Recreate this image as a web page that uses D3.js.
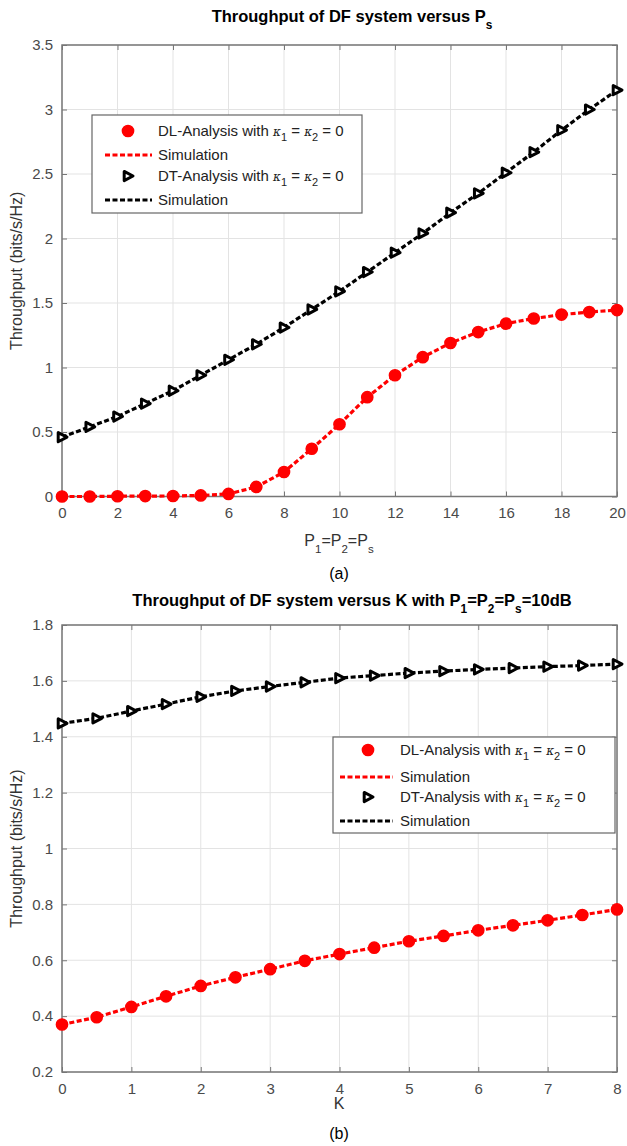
<!DOCTYPE html>
<html><head><meta charset="utf-8">
<script src="https://cdn.jsdelivr.net/npm/d3@7"></script>
<style>body{margin:0;background:#fff}svg{display:block}text{font-family:"Liberation Sans",Arial,sans-serif}</style>
</head><body>
<script>
// ---- Panel (a) data ----
const psValues = [0,1,2,3,4,5,6,7,8,9,10,11,12,13,14,15,16,17,18,19,20];
const dlVsPs = [0,0,0.002,0.003,0.004,0.008,0.02,0.074,0.19,0.37,0.56,0.77,0.94,1.08,1.19,1.275,1.34,1.38,1.41,1.43,1.445];
const dtVsPs = [0.46,0.54,0.62,0.72,0.82,0.94,1.06,1.18,1.31,1.45,1.59,1.74,1.89,2.04,2.20,2.35,2.51,2.67,2.84,3.00,3.15];
const xTicksA = [0,2,4,6,8,10,12,14,16,18,20];
const yTicksA = [0,0.5,1,1.5,2,2.5,3,3.5];
// ---- Panel (b) data ----
const kValues = [0,0.5,1,1.5,2,2.5,3,3.5,4,4.5,5,5.5,6,6.5,7,7.5,8];
const dlVsK = [0.37,0.396,0.433,0.471,0.508,0.539,0.568,0.598,0.622,0.645,0.668,0.687,0.707,0.725,0.743,0.762,0.782];
const dtVsK = [1.448,1.466,1.492,1.517,1.543,1.564,1.58,1.595,1.61,1.619,1.628,1.635,1.641,1.646,1.651,1.655,1.66];
const xTicksB = [0,1,2,3,4,5,6,7,8];
const yTicksB = [0.2,0.4,0.6,0.8,1,1.2,1.4,1.6,1.8];

const svg = d3.select("body").append("svg").attr("width",627).attr("height",1146);
svg.append("rect").attr("width",627).attr("height",1146).attr("fill","#fff");

function subText(sel, parts, fs) {
  parts.forEach(p => {
    const t = sel.append("tspan").text(p[0]);
    if (p[1]) t.attr("font-size", fs*0.72).attr("dy", fs*0.42);
    else if (p[2]) t.attr("dy", -fs*0.42);
  });
}

function panel(o) {
  const x = d3.scaleLinear().domain(o.xDomain).range([62,617]);
  const y = d3.scaleLinear().domain(o.yDomain).range([o.bottom,o.top]);
  const g = svg.append("g");
  g.selectAll(".gx").data(o.xTicks).enter().append("line")
    .attr("x1",d=>x(d)).attr("x2",d=>x(d)).attr("y1",o.top).attr("y2",o.bottom)
    .attr("stroke","#e3e3e3").attr("stroke-width",1);
  g.selectAll(".gy").data(o.yTicks).enter().append("line")
    .attr("y1",d=>y(d)).attr("y2",d=>y(d)).attr("x1",62).attr("x2",617)
    .attr("stroke","#e3e3e3").attr("stroke-width",1);
  const axB = d3.axisBottom(x).tickValues(o.xTicks).tickSizeInner(-5).tickSizeOuter(0).tickPadding(11).tickFormat(d3.format("~g"));
  const axL = d3.axisLeft(y).tickValues(o.yTicks).tickSizeInner(-5).tickSizeOuter(0).tickPadding(9).tickFormat(d3.format("~g"));
  const axT = d3.axisTop(x).tickValues(o.xTicks).tickSizeInner(-5).tickSizeOuter(0).tickFormat("");
  const axR = d3.axisRight(y).tickValues(o.yTicks).tickSizeInner(-5).tickSizeOuter(0).tickFormat("");
  [[axB,`translate(0,${o.bottom})`],[axL,"translate(62,0)"],[axT,`translate(0,${o.top})`],[axR,"translate(617,0)"]].forEach(([a,tr])=>{
    const ag = g.append("g").attr("transform",tr).call(a);
    ag.select(".domain").remove();
    ag.selectAll("line").attr("stroke","#777").attr("stroke-width",1);
    ag.selectAll("text").attr("fill","#4a4a4a").attr("font-size",15).attr("font-family","Liberation Sans, Arial, sans-serif");
  });
  g.append("rect").attr("x",62).attr("y",o.top).attr("width",555).attr("height",o.bottom-o.top)
    .attr("fill","none").attr("stroke","#777").attr("stroke-width",1.5);
  const line = d3.line().x(d=>x(d[0])).y(d=>y(d[1]));
  const red = o.xs.map((v,i)=>[v,o.dl[i]]);
  const blk = o.xs.map((v,i)=>[v,o.dt[i]]);
  g.append("path").datum(red).attr("d",line).attr("fill","none").attr("stroke","#ff0000").attr("stroke-width",3.2).attr("stroke-dasharray","5,2.5");
  g.selectAll(".rm").data(red).enter().append("circle").attr("cx",d=>x(d[0])).attr("cy",d=>y(d[1])).attr("r",5.6)
    .attr("fill","#ff0000").attr("stroke","#ff0000").attr("stroke-width",1.5);
  g.append("path").datum(blk).attr("d",line).attr("fill","none").attr("stroke","#000").attr("stroke-width",3.2).attr("stroke-dasharray","5,2.5");
  g.selectAll(".bm").data(blk).enter().append("path").attr("d","M-3.8,-4.6L5,0L-3.8,4.6Z")
    .attr("transform",d=>`translate(${x(d[0])},${y(d[1])})`).attr("fill","#fff").attr("stroke","#000").attr("stroke-width",3).attr("stroke-linejoin","round");
  const tt = svg.append("text").attr("x",o.titleX).attr("y",o.titleY).attr("text-anchor","middle")
    .attr("font-weight","bold").attr("font-size",16.5).attr("fill","#000");
  subText(tt,o.title,16.5);
  svg.append("text").attr("transform",`translate(22,${(o.top+o.bottom)/2}) rotate(-90)`).attr("text-anchor","middle")
    .attr("font-size",16).attr("fill","#333").text("Throughput (bits/s/Hz)");
  const xl = svg.append("text").attr("x",339).attr("y",o.xlabY).attr("text-anchor","middle").attr("font-size",16).attr("fill","#333");
  subText(xl,o.xlab,16);
  svg.append("text").attr("x",339).attr("y",o.capY).attr("text-anchor","middle").attr("font-size",16)
    .attr("font-family","Liberation Serif, Times New Roman, serif").attr("fill","#000").text(o.cap);
  const L = o.legend;
  const lg = svg.append("g");
  lg.append("rect").attr("x",L.x).attr("y",L.y).attr("width",L.w).attr("height",L.h).attr("fill","#fff").attr("stroke","#666").attr("stroke-width",1.2);
  const rows = [
    {type:"dot", label:"DL-Analysis with ", kappa:true},
    {type:"line", color:"#ff0000", label:"Simulation"},
    {type:"tri", label:"DT-Analysis with ", kappa:true},
    {type:"line", color:"#000", label:"Simulation"}
  ];
  rows.forEach((r,i)=>{
    const cy = L.rowY[i];
    if (r.type==="dot") lg.append("circle").attr("cx",L.x+L.mx).attr("cy",cy).attr("r",5.6).attr("fill","#ff0000").attr("stroke","#ff0000").attr("stroke-width",1.5);
    if (r.type==="tri") lg.append("path").attr("d","M-3.8,-4.6L5,0L-3.8,4.6Z").attr("transform",`translate(${L.x+L.mx},${cy})`).attr("fill","#fff").attr("stroke","#000").attr("stroke-width",3).attr("stroke-linejoin","round");
    if (r.type==="line") lg.append("line").attr("x1",L.x+L.l1).attr("x2",L.x+L.l2).attr("y1",cy).attr("y2",cy).attr("stroke",r.color).attr("stroke-width",3.2).attr("stroke-dasharray","5,2.5");
    const t = lg.append("text").attr("x",L.x+L.tx).attr("y",cy+5).attr("font-size",15).attr("fill","#222");
    t.append("tspan").text(r.label);
    if (r.kappa) {
      t.append("tspan").text("\u03BA").attr("font-style","italic").attr("font-family","DejaVu Serif, serif").attr("font-size",12);
      t.append("tspan").text("1").attr("font-size",11).attr("dy",5);
      t.append("tspan").text(" = ").attr("dy",-5);
      t.append("tspan").text("\u03BA").attr("font-style","italic").attr("font-family","DejaVu Serif, serif").attr("font-size",12);
      t.append("tspan").text("2").attr("font-size",11).attr("dy",5);
      t.append("tspan").text(" = 0").attr("dy",-5);
    }
  });
}

panel({
  xs: psValues, dl: dlVsPs, dt: dtVsPs, xTicks: xTicksA, yTicks: yTicksA,
  xDomain:[0,20], yDomain:[0,3.5], top:45, bottom:496.5,
  title:[["Throughput of DF system versus P",false],["s",true]], titleX:352, titleY:22,
  xlab:[["P",false],["1",true],["=P",false,true],["2",true],["=P",false,true],["s",true]], xlabY:546,
  cap:"(a)", capY:579,
  legend:{x:92,y:115,w:270,h:98,mx:36,l1:13,l2:60,tx:66,rowY:[131,155,176,200]}
});
panel({
  xs: kValues, dl: dlVsK, dt: dtVsK, xTicks: xTicksB, yTicks: yTicksB,
  xDomain:[0,8], yDomain:[0.2,1.8], top:625, bottom:1072,
  title:[["Throughput of DF system versus K with P",false],["1",true],["=P",false,true],["2",true],["=P",false,true],["s",true],["=10dB",false,true]], titleX:352, titleY:606,
  xlab:[["K",false]], xlabY:1109,
  cap:"(b)", capY:1139,
  legend:{x:333,y:737,w:282,h:96,mx:35,l1:7,l2:60,tx:67,rowY:[750,777,797,821]}
});
</script>
</body></html>
